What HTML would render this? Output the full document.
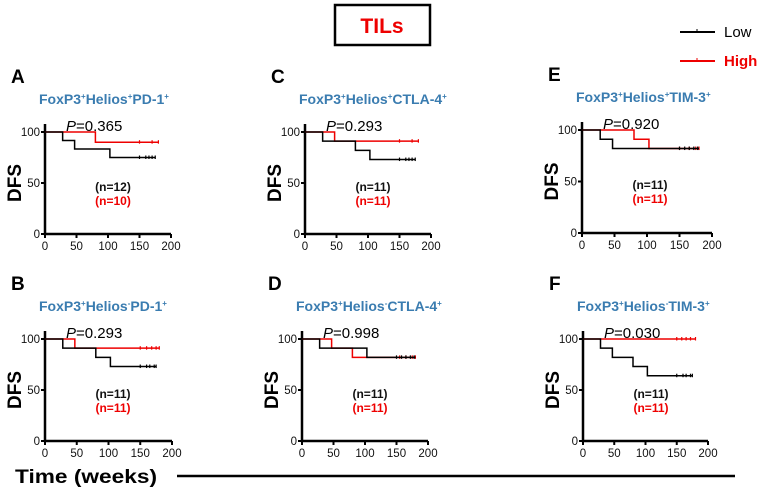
<!DOCTYPE html>
<html><head><meta charset="utf-8">
<style>
body{margin:0;background:#fff;}
svg{display:block;font-family:"Liberation Sans",Arial,sans-serif;}
</style></head>
<body>
<svg id="c" width="765" height="489" viewBox="0 0 765 489" xmlns="http://www.w3.org/2000/svg">
<rect x="335" y="5" width="95" height="40" fill="#fff" stroke="#000" stroke-width="2.5"/>
<text x="382" y="33" text-anchor="middle" font-size="21" font-weight="bold" fill="#e00">TILs</text>
<g><line x1="680" y1="32" x2="715" y2="32" stroke="#000" stroke-width="2"/><line x1="697" y1="29" x2="697" y2="32" stroke="#000"/><text x="724" y="37" font-size="15" fill="#000">Low</text></g>
<g><line x1="680" y1="61" x2="715" y2="61" stroke="#e00" stroke-width="2"/><line x1="697" y1="58" x2="697" y2="61" stroke="#e00"/><text x="724" y="66" font-size="15" font-weight="bold" fill="#e00">High</text></g>
<text x="15" y="483" font-size="19" font-weight="bold" fill="#000" textLength="142" lengthAdjust="spacingAndGlyphs">Time (weeks)</text>
<line x1="177" y1="476" x2="735" y2="476" stroke="#000" stroke-width="2.5"/>
</svg>
<script>
const panelLetters=["A","C","E","B","D","F"];
const panelTitles=[["FoxP3","+","Helios","+","PD-1","+"],["FoxP3","+","Helios","+","CTLA-4","+"],["FoxP3","+","Helios","+","TIM-3","+"],["FoxP3","+","Helios","-","PD-1","+"],["FoxP3","+","Helios","-","CTLA-4","+"],["FoxP3","+","Helios","-","TIM-3","+"]];
const pValues=["0.365","0.293","0.920","0.293","0.998","0.030"];
const nLow=[12,11,11,11,11,11];
const nHigh=[10,11,11,11,11,11];
// step events: [time, survival%]
const lowSteps=[[[28,91.7],[47,83.3],[103,75]],[[28,91],[80,82],[103,73]],[[28,91],[47,82]],[[28,91],[80,82],[103,73]],[[28,91],[103,82]],[[28,91],[47,82],[80,73],[103,64]]];
const highSteps=[[[80,90]],[[47,91]],[[80,91],[103,82]],[[47,91]],[[47,91],[80,82]],[]];
const lowEnd=[175,175,180,175,180,175];
const highEnd=[180,180,180,180,180,180];
const lowCensor=[[150,160,165,170,175],[150,160,165,170,175],[150,158,165,172,178],[150,160,165,172,175],[150,158,165,172,178],[150,160,165,172,175]];
const highCensor=[[150,170,180],[150,170,180],[150,165,175,180],[150,160,168,175,180],[155,165,175,180],[150,158,165,172,180]];
const xTicks=[0,50,100,150,200];
const yTicks=[0,50,100];
const layout=[{x0:45,x1:171,y100:132,y0:234},{x0:305,x1:431,y100:132,y0:234},{x0:582,x1:712,y100:130,y0:233},{x0:45,x1:172,y100:339,y0:441},{x0:302,x1:428,y100:339,y0:441},{x0:583,x1:708,y100:339,y0:441}];
const NS="http://www.w3.org/2000/svg";
const svg=document.getElementById('c');
function mk(t,a,p){const e=document.createElementNS(NS,t);for(const k in a)e.setAttribute(k,a[k]);(p||svg).appendChild(e);return e;}
panelLetters.forEach((L,i)=>{
  const o=layout[i];
  const sx=v=>o.x0+(o.x1-o.x0)*v/200;
  const sy=v=>o.y0-(o.y0-o.y100)*v/100;
  const g=mk('g',{});
  
  
  const lt=mk('text',{x:o.x0-34,y:o.y100-49,'font-size':19,'font-weight':'bold',fill:'#000'},g);lt.textContent=L;
  
  const tt=mk('text',{x:o.x0-6,y:o.y100-28,'font-size':14,'font-weight':'bold',fill:'#3a7cb0'},g);
  
  const parts=panelTitles[i];
  for(let k=0;k<parts.length;k++){const s=mk('tspan',{},tt);s.textContent=parts[k];if(k%2==1){s.setAttribute('font-size','8');s.setAttribute('dy','-5');}else if(k>0){s.setAttribute('dy','5');}}
  const ax=mk('path',{d:`M${o.x0},${o.y100-8}V${o.y0}H${o.x1}`,fill:'none',stroke:'#000','stroke-width':2.5},g);
  
  xTicks.forEach(t=>{mk('line',{x1:sx(t),y1:o.y0,x2:sx(t),y2:o.y0+4,stroke:'#000','stroke-width':2},g);
    const tx=mk('text',{x:sx(t),y:o.y0+16,'font-size':11.5,'text-anchor':'middle',fill:'#111'},g);tx.textContent=t;
    });
  yTicks.forEach(t=>{mk('line',{x1:o.x0-4,y1:sy(t),x2:o.x0,y2:sy(t),stroke:'#000','stroke-width':2},g);
    const ty=mk('text',{x:o.x0-5,y:sy(t)+4,'font-size':11.5,'text-anchor':'end',fill:'#111'},g);ty.textContent=t;
    });
  const yl=mk('text',{transform:`translate(${o.x0-24},${(o.y0+o.y100)/2}) rotate(-90)`,'font-size':19,'font-weight':'bold','text-anchor':'middle',fill:'#000'},g);yl.textContent='DFS';
  
  function curve(steps,end,cens,col,name){
    let d=`M${sx(0)},${sy(100)}`;let cur=100;
    steps.forEach(s=>{d+=`H${sx(s[0])}V${sy(s[1])}`;cur=s[1];});
    d+=`H${sx(end)}`;
    const p=mk('path',{d,fill:'none',stroke:col,'stroke-width':1.5},g);
    
    cens.forEach(c=>{const m=mk('line',{x1:sx(c),y1:sy(cur)-2,x2:sx(c),y2:sy(cur)+1.5,stroke:col,'stroke-width':1.2},g);
      });
  }
  curve(highSteps[i],highEnd[i],highCensor[i],'#e00','high-curve');
  curve(lowSteps[i],lowEnd[i],lowCensor[i],'#000','low-curve');
  const pt=mk('text',{x:o.x0+21,y:o.y100-1,'font-size':15,fill:'#000'},g);
  
  const pi=mk('tspan',{'font-style':'italic'},pt);pi.textContent='P';
  const pv=mk('tspan',{},pt);pv.textContent='='+pValues[i];
  const n1=mk('text',{x:o.x0+68,y:o.y100+59,'font-size':12,'font-weight':'bold','text-anchor':'middle',fill:'#111'},g);n1.textContent='(n='+nLow[i]+')';
  
  const n2=mk('text',{x:o.x0+68,y:o.y100+73,'font-size':12,'font-weight':'bold','text-anchor':'middle',fill:'#e00'},g);n2.textContent='(n='+nHigh[i]+')';
  
});
</script>
</body></html>
